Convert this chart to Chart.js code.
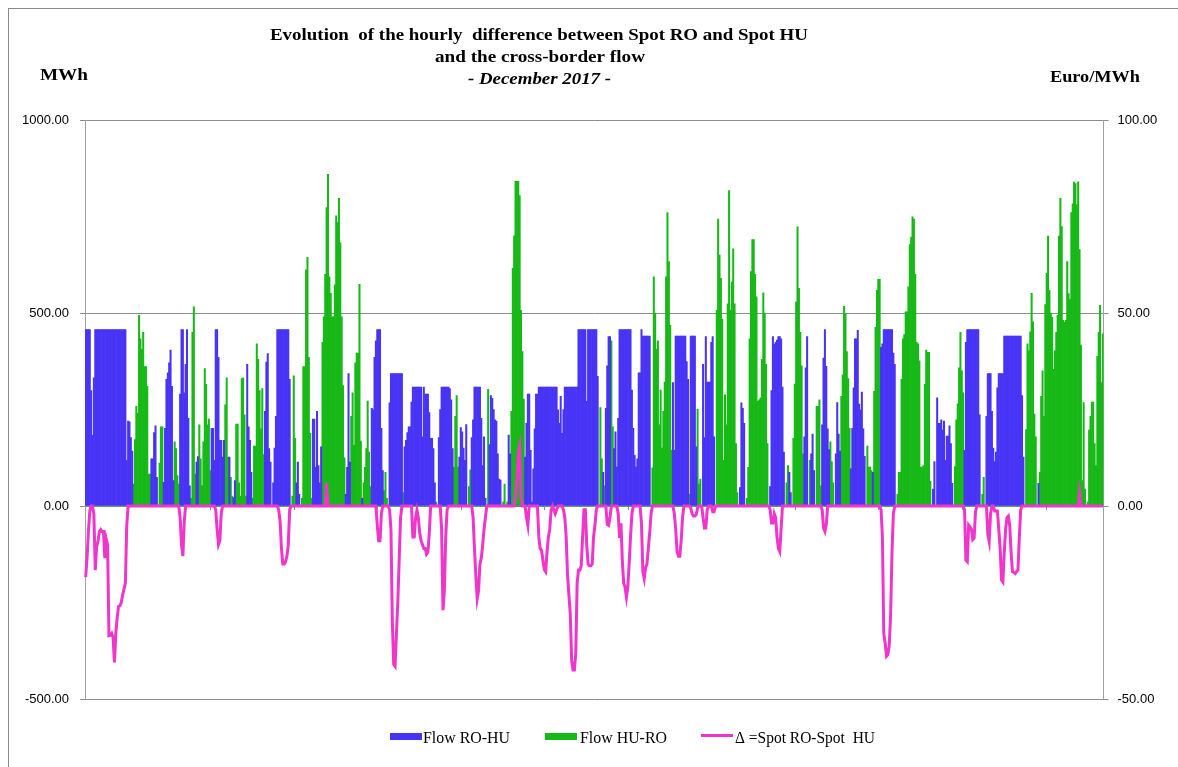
<!DOCTYPE html>
<html>
<head>
<meta charset="utf-8">
<title>Spot RO - Spot HU, December 2017</title>
<script src="https://cdn.jsdelivr.net/npm/chart.js@4.4.1/dist/chart.umd.min.js"></script>
<style>
  html, body { margin: 0; padding: 0; background: #fff; }
  #wrap { position: relative; width: 1178px; height: 767px; }
  canvas { display: block; }
</style>
</head>
<body>
<div id="wrap"><canvas id="chart" width="1178" height="767"></canvas></div>
<script>
'use strict';

// ===== DATA (hourly, one row per day of December 2017) =====
// Flow RO-HU, MWh
const flowRoHu = [
  [457,457,457,457,299,183,332,457,457,457,457,457,457,457,457,457,457,457,457,457,457,457,457,457],
  [457,457,457,457,457,457,118,220,218,177,142,0,0,0,0,0,0,0,0,0,0,0,0,0],
  [122,122,190,208,74,0,0,0,0,61,201,328,345,371,404,310,66,0,0,0,0,290,457,457],
  [293,367,457,227,52,0,0,0,0,114,128,0,0,0,0,0,0,0,0,0,201,201,118,457],
  [457,385,170,170,127,170,0,0,0,127,0,0,22,66,0,0,0,0,0,0,0,0,367,205],
  [170,87,0,0,0,0,0,0,0,0,0,245,373,395,149,114,0,60,150,232,457,457,457,457],
  [457,457,457,457,457,328,0,0,0,0,60,114,30,0,0,0,0,0,0,0,0,0,225,225],
  [100,245,105,60,153,0,0,0,0,0,0,0,0,0,0,0,0,0,0,0,0,0,30,100],
  [343,114,0,0,0,0,0,0,0,0,20,0,0,0,0,0,0,253,249,385,428,457,457,457],
  [201,92,0,0,0,0,267,343,343,343,343,343,343,343,343,343,0,153,170,190,205,205,269,308],
  [308,308,308,308,308,308,179,308,290,290,290,242,175,175,149,60,0,0,177,250,308,308,308,308],
  [308,308,304,275,149,0,0,0,0,127,203,192,150,118,211,0,0,0,177,223,308,308,308,308],
  [308,227,105,179,20,0,0,159,286,279,250,223,220,135,70,67,0,0,0,0,0,184,135,0],
  [0,0,0,0,0,0,0,0,0,127,214,290,290,144,10,96,200,290,290,308,308,308,308,308],
  [308,308,308,308,308,308,308,308,308,249,214,284,188,250,308,308,308,308,308,308,308,308,308,308],
  [457,457,457,457,457,457,271,457,457,457,457,457,457,457,336,0,0,0,87,0,253,363,439,439],
  [0,0,149,192,101,227,457,457,457,457,457,457,457,457,457,300,201,131,101,122,345,345,457,440],
  [440,440,440,440,440,0,0,0,0,0,0,0,0,0,0,0,0,0,0,0,0,320,144,440],
  [440,440,440,440,440,440,440,374,328,0,440,440,440,440,153,0,0,0,0,367,177,439,321,321],
  [321,424,439,179,0,0,0,0,0,0,0,0,0,0,0,0,0,0,0,0,0,0,48,267],
  [253,214,0,0,0,0,0,0,0,0,0,0,0,0,0,0,0,0,0,0,50,299,439,419],
  [424,430,439,439,433,308,140,0,0,0,87,35,0,0,0,0,0,0,0,0,0,179,358,439],
  [0,0,135,186,92,0,0,0,0,0,210,383,457,362,200,146,0,0,0,0,135,268,186,142],
  [0,0,0,0,0,0,0,96,201,306,433,433,455,264,249,295,200,129,0,0,0,0,0,87],
  [0,0,0,0,0,411,420,457,457,457,457,457,457,457,396,367,0,0,0,0,0,0,0,0],
  [0,0,0,0,0,0,0,0,0,0,0,0,0,0,0,0,0,0,0,44,115,0,280,214],
  [214,223,197,220,118,181,181,208,162,59,0,0,0,0,0,0,0,0,144,424,457,457,457,457],
  [457,457,457,457,457,236,0,0,0,0,232,343,343,343,245,150,115,140,306,343,343,343,343,440],
  [440,440,440,440,440,440,440,440,440,440,440,440,286,127,0,0,0,0,0,0,0,0,0,0],
  [59,0,0,0,0,0,0,0,0,0,0,0,0,0,0,0,0,0,0,0,0,0,0,0],
  [0,0,0,0,0,0,0,0,0,0,0,0,0,0,0,0,0,0,0,0,0,0,0,0]
];

// Flow HU-RO, MWh
const flowHuRo = [
  [0,0,0,0,0,0,0,0,0,0,0,0,0,0,0,0,0,0,0,0,0,0,0,0],
  [0,0,0,0,0,0,0,0,0,0,0,57,172,258,240,494,433,406,450,361,361,310,83,83],
  [0,0,0,0,0,0,111,205,205,0,0,0,0,0,0,0,0,166,149,79,57,0,0,0],
  [0,0,0,0,0,20,450,516,83,0,0,210,122,52,166,356,315,210,225,92,0,0,0,0],
  [0,0,0,0,0,0,262,332,127,0,74,26,0,0,212,212,60,26,330,332,236,26,0,0],
  [0,0,20,155,155,420,380,299,200,304,133,0,0,0,0,0,0,0,0,0,0,0,0,0],
  [0,0,0,0,0,0,0,26,337,175,0,0,0,0,20,361,361,612,644,385,188,20,0,0],
  [0,0,0,0,0,424,490,600,773,859,594,551,490,490,573,752,734,797,682,490,312,125,0,0],
  [0,0,232,293,157,371,396,396,574,168,0,60,100,149,272,140,50,0,0,0,0,0,0,0],
  [0,0,40,87,20,0,0,0,0,0,0,0,0,0,0,0,35,0,0,0,0,0,0,0],
  [0,0,0,0,0,0,0,0,0,0,0,0,0,0,0,0,10,0,0,0,0,0,0,0],
  [0,0,0,0,0,100,232,286,101,0,0,0,0,0,0,0,50,94,0,0,0,0,0,0],
  [0,0,0,0,0,0,302,0,0,0,0,0,0,0,0,0,0,10,57,0,10,0,0,245],
  [616,700,841,841,841,804,507,400,277,0,0,0,0,0,0,0,0,0,0,0,0,0,0,0],
  [0,0,0,0,0,0,0,0,0,0,0,0,0,0,0,0,0,0,0,0,0,0,0,0],
  [0,0,0,0,0,0,0,0,0,0,0,0,0,0,0,0,255,122,0,52,0,0,0,0],
  [428,205,0,0,0,0,0,0,0,0,0,0,0,0,0,0,0,0,0,0,0,0,0,0],
  [0,0,0,0,0,0,99,594,500,406,428,210,300,150,245,321,594,760,633,468,144,0,0,0],
  [0,0,0,0,0,0,0,0,0,31,0,0,0,0,0,251,57,70,0,0,0,0,0,0],
  [0,0,0,0,0,507,743,650,590,484,118,288,210,524,817,507,580,666,524,162,35,0,0,0],
  [0,0,0,20,100,433,607,690,690,600,542,271,275,280,380,552,500,367,162,0,0,0,0,0],
  [0,0,0,0,0,0,0,0,60,105,0,0,0,175,316,529,723,564,450,363,135,0,0,0],
  [0,118,0,0,0,0,258,258,275,52,0,0,0,0,0,0,166,115,60,0,0,0,0,0],
  [284,340,517,498,400,330,201,0,0,0,0,0,0,0,0,0,0,0,0,155,101,101,92,0],
  [297,463,559,587,587,0,0,0,0,0,0,0,0,0,0,0,0,30,87,87,328,433,444,503],
  [503,568,677,697,749,743,600,424,420,376,101,101,105,315,404,398,398,64,0,0,0,0,0,0],
  [0,0,0,0,0,0,0,0,0,0,0,102,223,265,358,450,350,293,0,0,0,0,0,0],
  [0,0,0,0,0,0,0,30,74,0,0,0,0,0,0,0,0,0,0,0,0,0,0,0],
  [0,0,0,0,0,0,0,0,0,0,0,0,0,0,0,198,420,402,451,551,477,238,179,0],
  [0,87,284,350,232,522,603,699,559,500,489,354,402,450,494,699,797,724,481,476,481,633,550,535],
  [760,783,839,835,780,840,664,417,66,268,44,0,10,197,232,269,269,162,105,388,450,520,320,446]
];

// Spot RO - Spot HU, Euro/MWh
const spotDelta = [
  [-18.4,-13.5,-6.6,-1.3,0,0,-2.2,-16.6,-10.5,-9.2,-6.6,-6.1,-6.6,-6.6,-13.5,-8.5,-10,-33.6,-33.5,-33,-34,-40.5,-33,-29],
  [-26,-25.8,-25,-23,-21.5,-20,-5,0,0,0,0,0,0,0,0,0,0,0,0,0,0,0,0,0],
  [0,0,0,0,0,0,0,0,0,0,0,0,0,0,0,0,0,0,0,0,0,-3,-10,-13],
  [-4,0,0,0,0,0,0,0,0,0,0,0,0,0,0,0,0,0,0,0,0,0,0,-1],
  [-6,-10,-9,-2,0,0,0,0,0,0,0,0,0,0,0,0,0,0,0,0,0,0,0,0],
  [0,0,0,0,0,0,0,0,0,0,0,0,0,0,0,0,0,0,0,0,0,-1,-4,-11],
  [-15,-15,-14.5,-13,-10,-1,0,0,0,0,0,0,0,0,0,0,0,0,0,0,0,0,0,0],
  [0,0,0,0,0,0,0,0,6,0,0,0,0,0,0,0,0,0,0,0,0,0,0,0],
  [0,0,0,0,0,0,0,0,0,0,0,0,0,0,0,0,0,0,0,0,0,-5,-9,-9],
  [-2,0,0,0,0,0,-1,-6,-30,-41,-41.5,-33,-25,-14,-3,0,0,0,0,0,0,0,0,-8],
  [-8,-3,-1,-3,-7,-9,-10,-11,-11,-12.5,-12,-7,0,0,0,0,0,0,0,0,-6,-27,-22,-8],
  [-1,0,0,0,0,0,0,0,0,0,0,0,0,0,0,0,0,0,0,-3,-11,-18,-24,-22],
  [-15,-13.5,-10,-6,-3,0,0,0,0,0,0,0,0,0,0,0,0,0,0,0,0,0,0,0],
  [0,0,3,7,14,15.7,2,0,0,0,-3,-5,0,0,0,0,0,0,0,-8,-11,-11.5,-14,-16.5],
  [-17,-12,-8,-6,-1,0,-1,-2,-1,0,0,0,0,-1,-3,-8,-18,-23,-28,-40,-42.5,-42.5,-38,-20],
  [-16.6,-16.6,-15.5,-8,-1,-1,-10,-15,-15.5,-15.5,-15,-8,-5,-1,0,0,0,0,0,0,0,-4.8,-5,-3],
  [0,0,0,0,0,-2,-8.3,-4.5,-14,-20,-21,-23.6,-21,-15,-8,-2,0,0,0,0,0,0,-4.5,-17],
  [-18.8,-16,-15,-11,-7,-2,0,0,0,0,0,0,0,0,0,0,0,0,0,0,0,0,-2,-6],
  [-11.8,-13,-13,-9,-3,0,0,0,0,0,-0.5,-2,-2.6,-2.6,-2.2,-0.5,0,0,0,-3,-5.7,-5.7,-1,0],
  [0,0,-1.5,-1.5,0,0,0,0,0,0,0,0,0,0,0,0,0,0,0,0,0,0,0,0],
  [0,0,0,0,0,0,0,0,0,0,0,0,0,0,0,0,0,0,0,0,-1,-4.4,-4.4,-2],
  [-3,-8,-11,-11.8,-6,0,0,0,0,0,0,0,0,0,0,0,0,0,0,0,0,0,0,0],
  [0,0,0,0,0,0,0,0,0,0,-1,-5.7,-6.6,-4.8,0,0,0,0,0,0,0,0,0,0],
  [0,0,0,0,0,0,0,0,0,0,0,0,0,0,0,0,0,0,0,0,0,0,0,0],
  [0,0,0,0,0,-1,-8,-33,-35.5,-38.9,-38.5,-36,-28,-12,-2,0,0,0,0,0,0,0,0,0],
  [0,0,0,0,0,0,0,0,0,0,0,0,0,0,0,0,0,0,0,0,0,0,0,0],
  [0,0,0,0,0,0,0,0,0,0,0,0,0,0,0,0,0,0,-1,-14,-14.4,-5,-5.5,-6],
  [-8.7,-8.3,-1.5,0,0,0,0,0,0,0,0,-7.4,-9.2,-2,0,0,-1.3,-1.3,-1.3,-6,-11,-19.2,-19.7,-12],
  [-6,-3,-2.6,-5,-12,-17,-17.2,-17.5,-17,-16.6,-8.3,-1,0,0,0,0,0,0,0,0,0,0,0,0],
  [0,0,0,0,0,0,0,0,0,0,0,0,0,0,0,0,0,0,0,0,0,0,0,0],
  [0,0,0,0,0,0,3.5,0,0,0,0,0,0,0,0,0,0,0,0,0,0,0,0,0]
];

// hour index labels on the category axis (printed white, as in the original)
const firstHour = 6559;
const hourLabels = flowRoHu.flat().map((_, i) => String(firstHour + i));
const labelEvery = 61;

const leftTicks = { min: -500, max: 1000, step: 500 };
const rightTicks = { min: -50, max: 100, step: 50 };

const COLORS = {
  roHu: 'rgb(72,52,245)',
  huRo: 'rgb(23,185,23)',
  delta: 'rgb(240,53,203)',
  grid: '#8c8c8c',
  axis: '#a0a0a0'
};

// draw text squeezed/stretched to a given width (Excel title look)
function fitText(ctx, text, left, baseline, font, width) {
  ctx.save();
  ctx.font = font;
  const w = ctx.measureText(text).width;
  ctx.translate(left, baseline);
  ctx.scale(width / w, 1);
  ctx.textAlign = 'left';
  ctx.textBaseline = 'alphabetic';
  ctx.fillStyle = '#000';
  ctx.fillText(text, 0, 0);
  ctx.restore();
}

// Titles, unit labels, frame and legend
const decorPlugin = {
  id: 'decor',
  afterDraw(chart) {
    const ctx = chart.ctx;
    const serif = '"Liberation Serif", "Times New Roman", serif';

    ctx.save();
    ctx.strokeStyle = '#8a8a8a';
    ctx.lineWidth = 1;
    ctx.strokeRect(8.5, 8.5, 1200, 800);
    ctx.restore();

    fitText(ctx, 'Evolution  of the hourly  difference between Spot RO and Spot HU', 270, 40, 'bold 17px ' + serif, 538);
    fitText(ctx, 'and the cross-border flow', 435, 62, 'bold 17px ' + serif, 210);
    fitText(ctx, '- December 2017 -', 468, 84, 'italic bold 17px ' + serif, 143);
    fitText(ctx, 'MWh', 40, 80, 'bold 17px ' + serif, 48);
    fitText(ctx, 'Euro/MWh', 1050, 82, 'bold 17px ' + serif, 90);

    // legend
    ctx.save();
    ctx.fillStyle = COLORS.roHu;
    ctx.fillRect(390, 733, 32, 7);
    ctx.fillStyle = COLORS.huRo;
    ctx.fillRect(545, 733, 32, 7);
    ctx.strokeStyle = COLORS.delta;
    ctx.lineWidth = 3;
    ctx.beginPath();
    ctx.moveTo(701, 735.5);
    ctx.lineTo(733, 735.5);
    ctx.stroke();
    ctx.restore();
    fitText(ctx, 'Flow RO-HU', 423, 743, '16px ' + serif, 87);
    fitText(ctx, 'Flow HU-RO', 580, 743, '16px ' + serif, 87);
    fitText(ctx, 'Δ =Spot RO-Spot  HU', 735, 743, '16px ' + serif, 140);
  }
};

const tickFont = { family: '"Liberation Sans", Arial, sans-serif', size: 13 };

new Chart(document.getElementById('chart'), {
  type: 'bar',
  data: {
    labels: hourLabels,
    datasets: [
      {
        type: 'line',
        label: 'Δ =Spot RO-Spot  HU',
        data: spotDelta.flat(),
        yAxisID: 'y1',
        borderColor: COLORS.delta,
        borderWidth: 3,
        pointRadius: 0,
        tension: 0,
        fill: false,
        order: 0
      },
      {
        label: 'Flow RO-HU',
        data: flowRoHu.flat(),
        yAxisID: 'y',
        backgroundColor: COLORS.roHu,
        barPercentage: 1,
        categoryPercentage: 1,
        grouped: false,
        order: 1
      },
      {
        label: 'Flow HU-RO',
        data: flowHuRo.flat(),
        yAxisID: 'y',
        backgroundColor: COLORS.huRo,
        barPercentage: 1,
        categoryPercentage: 1,
        grouped: false,
        order: 2
      }
    ]
  },
  options: {
    responsive: false,
    animation: false,
    devicePixelRatio: 1,
    layout: { padding: { top: 120, bottom: 68, left: 0, right: 0 } },
    plugins: {
      legend: { display: false },
      tooltip: { enabled: false }
    },
    scales: {
      x: {
        type: 'category',
        position: { y: 0 },
        z: 1,
        border: { display: false },
        grid: { drawOnChartArea: false, drawTicks: true, tickLength: 4, color: COLORS.grid },
        ticks: {
          autoSkip: false,
          maxRotation: 0,
          minRotation: 0,
          color: '#ffffff',
          font: tickFont,
          padding: 3,
          callback: (v, i) => (i % labelEvery === 0 ? hourLabels[i] : null)
        }
      },
      y: {
        position: 'left',
        min: leftTicks.min,
        max: leftTicks.max,
        border: { color: COLORS.axis },
        grid: { color: COLORS.grid, tickLength: 5 },
        ticks: {
          stepSize: leftTicks.step,
          color: '#000',
          font: tickFont,
          padding: 11,
          callback: v => Number(v).toFixed(2)
        },
        afterFit(scale) { scale.width = 85; }
      },
      y1: {
        position: 'right',
        min: rightTicks.min,
        max: rightTicks.max,
        border: { color: COLORS.axis },
        grid: { drawOnChartArea: false, color: COLORS.grid, tickLength: 5 },
        ticks: {
          stepSize: rightTicks.step,
          color: '#000',
          font: tickFont,
          padding: 9,
          callback: v => Number(v).toFixed(2)
        },
        afterFit(scale) { scale.width = 74.5; }
      }
    }
  },
  plugins: [decorPlugin]
});
</script>
</body>
</html>
